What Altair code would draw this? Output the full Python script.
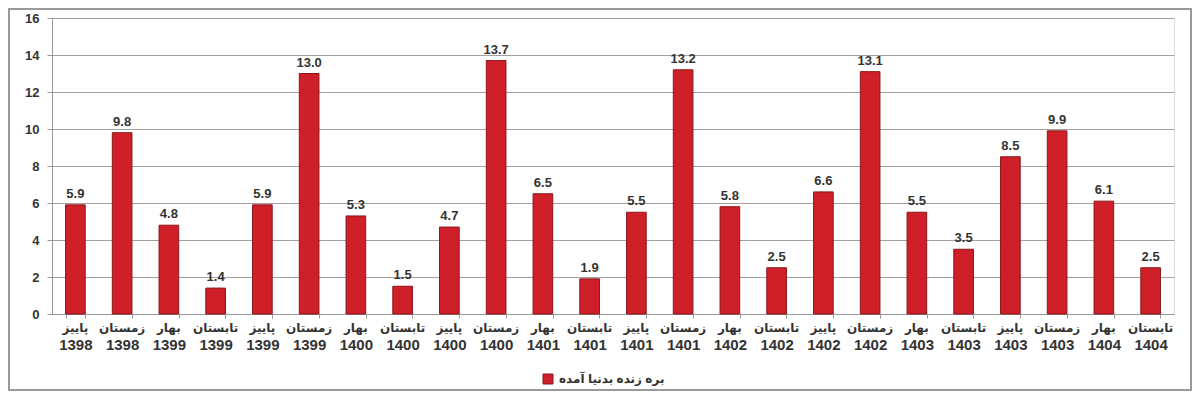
import altair as alt
import pandas as pd

seasons = ["پاییز", "زمستان", "بهار", "تابستان"] * 6
years = ["1398", "1398", "1399", "1399", "1399", "1399", "1400", "1400", "1400", "1400",
         "1401", "1401", "1401", "1401", "1402", "1402", "1402", "1402", "1403", "1403",
         "1403", "1403", "1404", "1404"]
values = [5.9, 9.8, 4.8, 1.4, 5.9, 13.0, 5.3, 1.5, 4.7, 13.7, 6.5, 1.9,
          5.5, 13.2, 5.8, 2.5, 6.6, 13.1, 5.5, 3.5, 8.5, 9.9, 6.1, 2.5]
series_name = "بره زنده بدنیا آمده"

labels = [f"{s}|{y}" for s, y in zip(seasons, years)]
df = pd.DataFrame({"cat": labels, "value": values, "series": series_name,
                   "season": seasons, "year": years})

FONT = "Liberation Sans, DejaVu Sans"
W, H = 1122, 296

xenc = alt.X("cat:N", sort=labels,
             scale=alt.Scale(paddingInner=0.58, paddingOuter=0.29),
             axis=alt.Axis(title=None, labelAngle=0, labelExpr="split(datum.label, '|')[1]",
                           labelFont=FONT, labelFontSize=15, labelFontWeight="bold",
                           labelColor="#333333", labelPadding=19, labelBaseline="top",
                           tickBand="extent", tickColor="#999999", tickSize=4,
                           domainColor="#999999", grid=False))
yenc = alt.Y("value:Q", scale=alt.Scale(domain=[0, 16], nice=False),
             axis=alt.Axis(title=None, values=list(range(0, 17, 2)), tickCount=20,
                           labelOverlap=False, labelFont=FONT,
                           labelFontSize=13, labelFontWeight="bold", labelColor="#333333",
                           labelPadding=8, tickColor="#999999", tickSize=5,
                           gridColor="#a89ea0", gridWidth=1.2, domainColor="#999999"))

frame = alt.Chart(pd.DataFrame({"a": [0]})).mark_rect(
    fill="transparent", stroke="#9a9a9a", strokeWidth=2
).encode(x=alt.value(-43), x2=alt.value(W + 17), y=alt.value(-9), y2=alt.value(H + 76))

bars = alt.Chart(df).mark_bar(stroke="#8a1518", strokeWidth=1).encode(
    x=xenc, y=yenc,
    color=alt.Color("series:N", scale=alt.Scale(range=["#cf1f29"]),
                    legend=alt.Legend(title=None, orient="none", legendX=490, legendY=355,
                                      symbolType="square", symbolSize=100,
                                      symbolStrokeColor="#8a1518", symbolStrokeWidth=1,
                                      labelFont=FONT, labelFontSize=12, labelFontWeight="bold",
                                      labelColor="#333333", labelOffset=5)),
)

text = alt.Chart(df).mark_text(dy=-11, font=FONT, fontSize=13, fontWeight="bold",
                               color="#333333").encode(
    x=alt.X("cat:N", sort=labels), y=yenc, text=alt.Text("value:Q", format=".1f"))

season_text = alt.Chart(df).mark_text(font=FONT, fontSize=12, fontWeight="bold",
                                      color="#333333", baseline="middle").encode(
    x=alt.X("cat:N", sort=labels), y=alt.value(H + 14), text="season:N")

chart = alt.layer(frame, bars, text, season_text).properties(
    width=W, height=H,
    autosize=alt.AutoSizeParams(type="none"),
    padding={"left": 44, "top": 10, "right": 18, "bottom": 82},
).configure_view(fill="#fcecee", stroke=None).configure(background="white")

chart.save("out.html", embed_options={"renderer": "svg", "actions": False})
